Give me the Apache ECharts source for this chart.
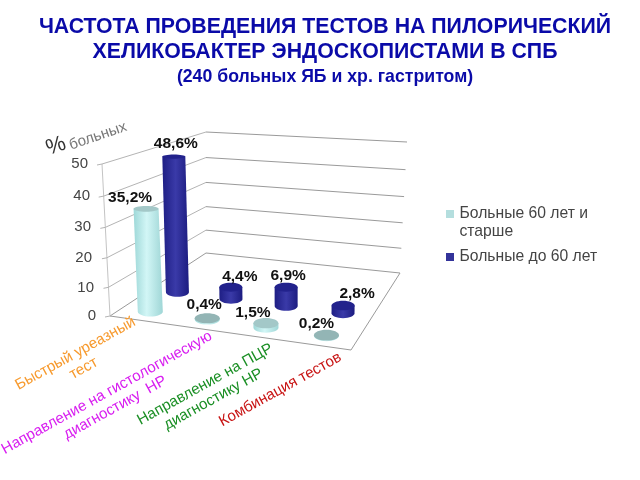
<!DOCTYPE html>
<html><head><meta charset="utf-8">
<style>html,body{margin:0;padding:0;background:#fff}#c{width:640px;height:480px}</style>
<script src="https://cdn.jsdelivr.net/npm/echarts@6/dist/echarts.min.js"></script>
</head><body><div id="c"></div>
<script>
// ---- data ----
const categories = ['Быстрый уреазный\nтест','Направление на гистологическую\nдиагностику  НР','Направление на ПЦР\nдиагностику НР','Комбинация тестов'];
const older = [35.2, 0.4, 1.5, 0.2];
const younger = [48.6, 4.4, 6.9, 2.8];
const olderName = 'Больные 60 лет и\nстарше';
const youngerName = 'Больные до 60 лет';
const yTicks = [0,10,20,30,40,50];

// ---- layout / style ----
const FONT = '"Liberation Sans", Arial, sans-serif';
const G = {left:110, top:164, width:242, height:152};
// eight corners of the box: fb = front-bottom, ft = front-top, bb = back-bottom, bt = back-top; L/R
const C = {
  fbL:[110,316], ftL:[102,164], bbL:[206,253], btL:[206,132],
  fbR:[351,350], ftR:[350,189], bbR:[400,273], btR:[407,142]
};
const catColors = ['#F79A2E','#D81FF0','#1B8F25','#C81414'];
const catOffset = [[-59,41],[-86,72],[-48,55],[-39,44]];
const olderNudge = [[-16,-11],[-3,-14],[-13,-10],[-10,-11]];
const youngerNudge = [[2,-13],[9,-11],[2,-12],[14,-12]];
const tickLabelPad = {0:[0,0],10:[5,2],20:[5,4],30:[4,5],40:[3,6],50:[0,8]};

function mix(a,b,t){return [a[0]+(b[0]-a[0])*t, a[1]+(b[1]-a[1])*t];}
function warp(f){return f*(1-0.07*(1-f));}
function warpU(u){return u-0.06*u*(1-u);}
// u: along categories, f: height fraction, d: depth fraction
function project(u0,f,d){
  const h=warp(f), u=warpU(u0);
  const fl=mix(C.fbL,C.ftL,h), fr=mix(C.fbR,C.ftR,h), bl=mix(C.bbL,C.btL,h), br=mix(C.bbR,C.btR,h);
  return mix(mix(fl,fr,u),mix(bl,br,u),d);
}
function fractions(p){return [(p[0]-G.left)/G.width,(G.top+G.height-p[1])/G.height];}

function cylinderSeries(name,values,depth,rx,stops,topColor,topOverride,nudge,z,legendColor){
  return {
    type:'custom', name, z, itemStyle:{color:legendColor},
    data:values.map((v,i)=>[i,v]),
    renderItem(params,api){
      const i=api.value(0), v=api.value(1);
      const a=fractions(api.coord([i,0])), b=fractions(api.coord([i,v]));
      const base=project(a[0],0,depth), top=project(b[0],b[1],depth);
      const ryOf=y=>Math.max(2.2,1.4+(y-130)*0.0195);
      const ryB=ryOf(base[1]), ryT=ryOf(top[1]);
      const pts=[[top[0]-rx,top[1]],[top[0]+rx,top[1]]];
      for(let k=0;k<=16;k++){const t=Math.PI*k/16;pts.push([base[0]+rx*Math.cos(t),base[1]+ryB*Math.sin(t)]);}
      const grad={type:'linear',x:0,y:0,x2:1,y2:0,colorStops:stops};
      const lbl=String(v).replace('.',',')+'%';
      return {type:'group',children:[
        {type:'polygon',shape:{points:pts},style:{fill:grad}},
        {type:'ellipse',shape:{cx:top[0],cy:top[1],rx:rx,ry:ryT},style:{fill:v<1?topOverride:topColor},z2:2},
        {type:'text',z2:50,x:top[0]+nudge[i][0],y:top[1]+nudge[i][1],
         style:{text:lbl,fill:'#111',font:'bold 15.5px '+FONT,align:'center',verticalAlign:'middle'}}
      ]};
    }
  };
}

const wallSeries={
  type:'custom', name:'walls', z:1, silent:true, legendHoverLink:false,
  data:yTicks.map(t=>[0,t]),
  renderItem(params,api){
    const v=api.value(1);
    const f=fractions(api.coord([0,v]))[1];
    const line=(p,q,c)=>({type:'line',shape:{x1:p[0],y1:p[1],x2:q[0],y2:q[1]},style:{stroke:c,lineWidth:1}});
    const gc='#9a9a9a', lc='#b4b4b4';
    const fl=project(0,f,0), bl=project(0,f,1), br=project(1,f,1);
    const ch=[line([fl[0]-5,fl[1]+1],fl,lc),line(fl,bl,f===0?gc:lc),line(bl,br,gc)];
    if(f===0){
      const fr=project(1,0,0);
      ch.push(line(fl,fr,gc),line(fr,br,gc),line(fl,project(0,1,0),'#c4c4c4'));
    }
    return {type:'group',children:ch};
  }
};

const catSeries={
  type:'custom', name:'categoryLabels', z:6, silent:true,
  data:categories.map((c,i)=>[i,0]),
  renderItem(params,api){
    const i=api.value(0);
    const a=fractions(api.coord([i,0]));
    const p=project(a[0],0,0);
    return {type:'text',x:p[0]+catOffset[i][0],y:p[1]+catOffset[i][1],rotation:29*Math.PI/180,
      style:{text:categories[i],fill:catColors[i],font:'15.2px '+FONT,lineHeight:17,align:'center',verticalAlign:'middle'}};
  }
};

const option={
  animation:false, backgroundColor:'#fff',
  textStyle:{fontFamily:FONT},
  title:[
    {text:'ЧАСТОТА ПРОВЕДЕНИЯ ТЕСТОВ НА ПИЛОРИЧЕСКИЙ\nХЕЛИКОБАКТЕР ЭНДОСКОПИСТАМИ В СПБ',left:320,top:10,textAlign:'center',
     textStyle:{fontFamily:FONT,fontWeight:'bold',fontSize:21.3,lineHeight:25,color:'#0A0AA8'}},
    {text:'(240 больных ЯБ и хр. гастритом)',left:320,top:63,textAlign:'center',
     textStyle:{fontFamily:FONT,fontWeight:'bold',fontSize:17.7,color:'#0A0AA8'}}
  ],
  grid:{left:G.left,top:G.top,width:G.width,height:G.height},
  xAxis:{type:'category',data:categories,show:false},
  yAxis:{type:'value',min:0,max:50,interval:10,
    axisLine:{show:false},axisTick:{show:false},splitLine:{show:false},
    axisLabel:{margin:14,
      formatter:v=>`{t${v}|${v}}`,
      rich:Object.fromEntries(yTicks.map(t=>['t'+t,{fontFamily:FONT,fontSize:15,color:'#444',
        padding:[tickLabelPad[t][0],tickLabelPad[t][1],0,0]}]))}
  },
  legend:{orient:'vertical',left:441,top:200,itemWidth:9,itemHeight:26,itemGap:3,
    textStyle:{fontFamily:FONT,fontSize:15.7,lineHeight:18,color:'#444'},
    selectedMode:false,
    data:[
      {name:olderName,icon:'path://M0 0H8V8H0Z M0 26L0 26Z'},
      {name:youngerName,icon:'path://M0 0L0 0Z M0 9H8V17H0Z M0 26L0 26Z'}
    ]},
  graphic:[
    {type:'text',x:56,y:146,rotation:19*Math.PI/180,style:{text:'%',fill:'#333',font:'22px '+FONT,align:'center',verticalAlign:'middle'}},
    {type:'text',x:98,y:136,rotation:19*Math.PI/180,style:{text:'больных',fill:'#777',font:'15px '+FONT,align:'center',verticalAlign:'middle'}}
  ],
  series:[
    wallSeries,
    cylinderSeries(olderName,older,0.13,12.5,
      [{offset:0,color:'#9ED8D8'},{offset:.45,color:'#D2F6F6'},{offset:1,color:'#9FD6D6'}],'#A3C8C8','#93B5B5',olderNudge,4,'#B4DEDE'),
    cylinderSeries(youngerName,younger,0.43,11.5,
      [{offset:0,color:'#1E1E84'},{offset:.5,color:'#3A3AA8'},{offset:1,color:'#1C1C80'}],'#22228C','#22228C',youngerNudge,3,'#33339A'),
    catSeries
  ]
};
echarts.init(document.getElementById('c'),null,{renderer:'canvas'}).setOption(option);
</script></body></html>
